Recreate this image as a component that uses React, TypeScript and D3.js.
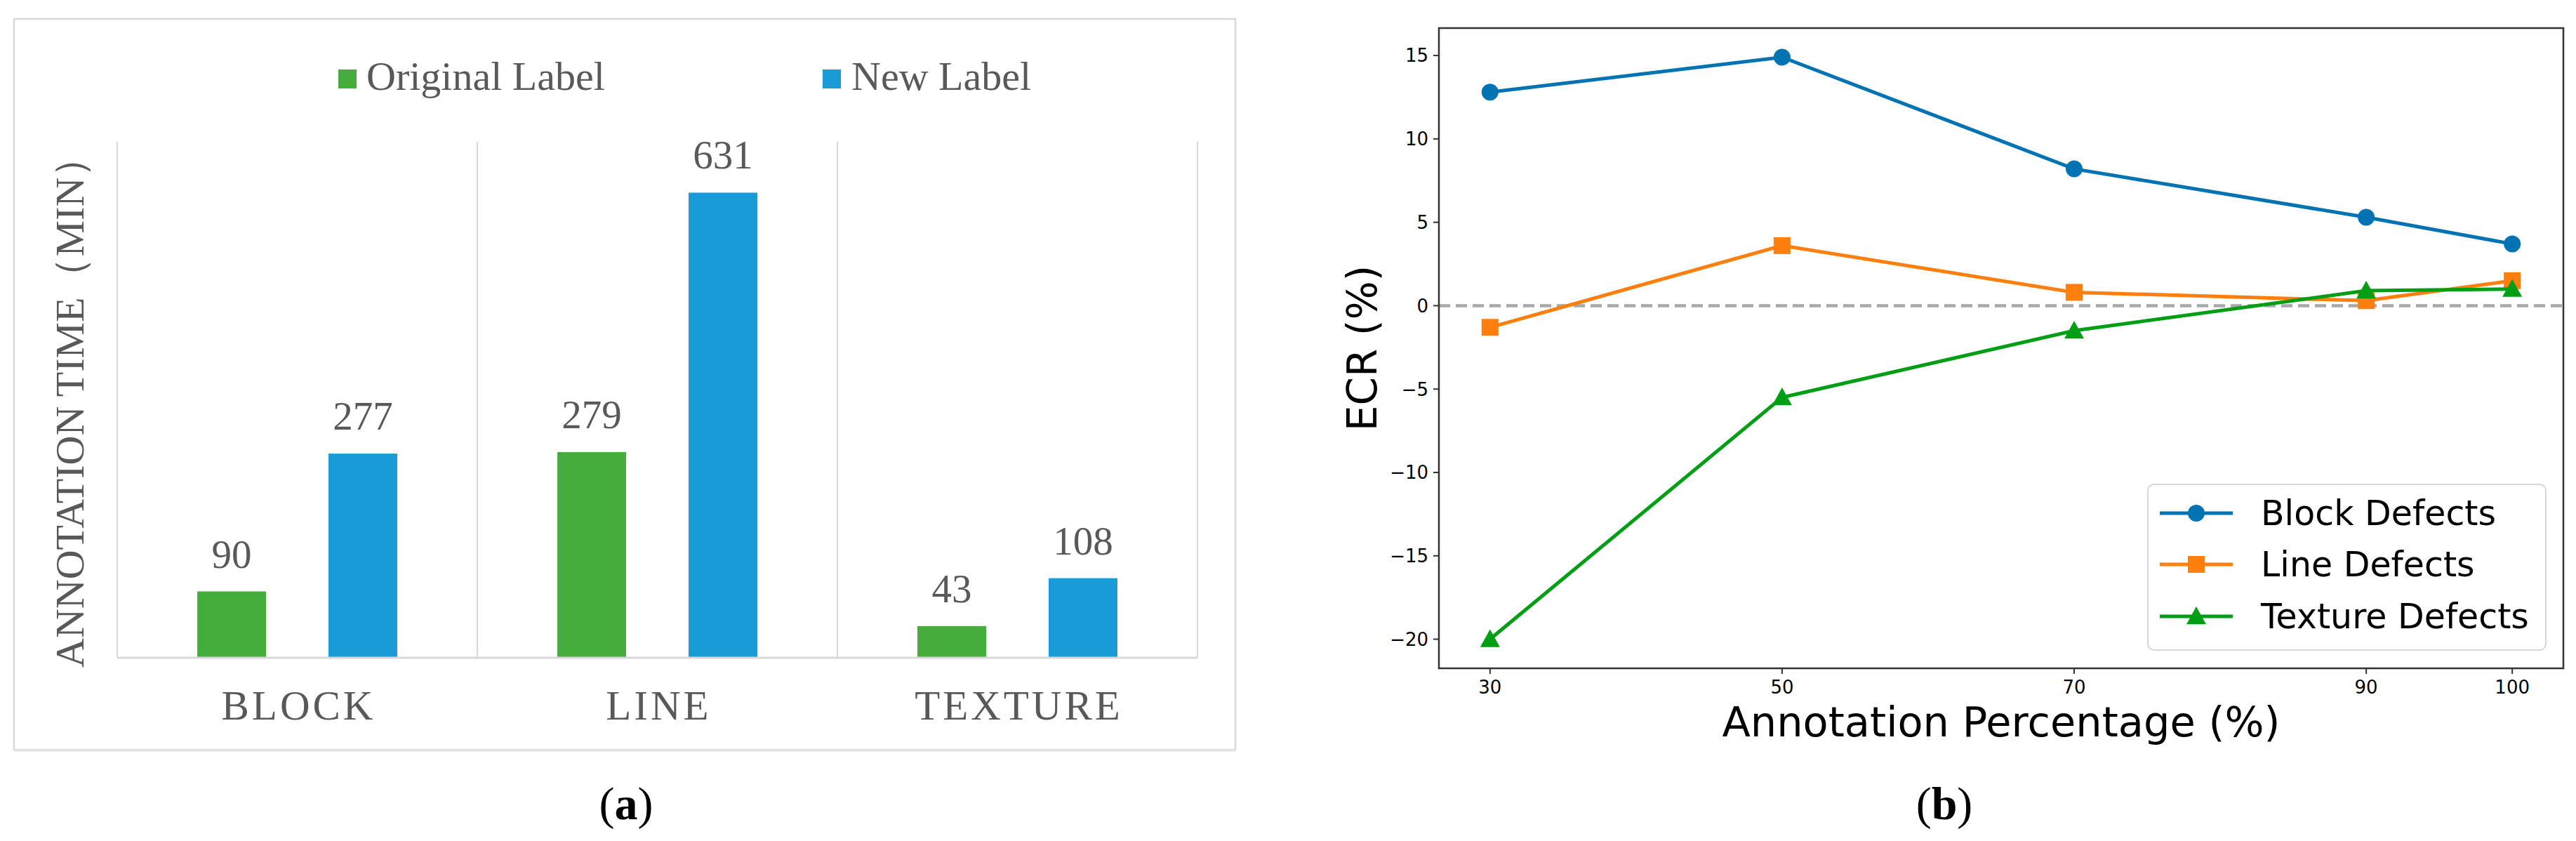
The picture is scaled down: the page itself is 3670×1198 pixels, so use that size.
import React from "react";
import * as d3 from "d3";

// ---------- Panel (a) data ----------
const categories = ["BLOCK", "LINE", "TEXTURE"];
const seriesNames = ["Original Label", "New Label"];
const originalLabel = [90, 279, 43];
const newLabel = [277, 631, 108];
const barColors = ["#44ad3b", "#199bd8"];

// ---------- Panel (b) data ----------
const annotationPct = [30, 50, 70, 90, 100];
const blockDefects = [12.8, 14.9, 8.2, 5.3, 3.7];
const lineDefects = [-1.3, 3.6, 0.8, 0.3, 1.5];
const textureDefects = [-20, -5.5, -1.5, 0.9, 1.0];
const lineSeriesNames = ["Block Defects", "Line Defects", "Texture Defects"];
const lineColors = ["#0173b2", "#ff7f0e", "#009e14"];
const yTicksB = [-20, -15, -10, -5, 0, 5, 10, 15];

const GRAY_TXT = "#595959";
const SERIF = "'Liberation Serif', 'Times New Roman', serif";
const SANS = "'DejaVu Sans', sans-serif";

function fmtTick(v: number) {
  return v < 0 ? "\u2212" + Math.abs(v) : String(v);
}

function PanelA() {
  const x0 = d3.scaleBand<string>().domain(categories).range([167, 1706]).padding(0);
  const x1 = d3
    .scaleBand<string>()
    .domain(seriesNames)
    .range([0, x0.bandwidth()])
    .paddingInner(0.476)
    .paddingOuter(0.61);
  const y = d3.scaleLinear().domain([0, 700]).range([937, 202]);
  const values = [originalLabel, newLabel];
  const seps = [...categories.map((c) => x0(c) as number), x0.range()[1]];
  return (
    <g>
      <rect x={20} y={27} width={1740} height={1041} fill="#fff" stroke="#d9d9d9" strokeWidth={2.5} />
      <line x1={20} x2={1760} y1={1069} y2={1069} stroke="#e3e3e3" strokeWidth={3} />
      {/* legend */}
      <rect x={482} y={99} width={26} height={27} fill={barColors[0]} />
      <text x={522} y={128} fontFamily={SERIF} fontSize={58} fill={GRAY_TXT}>
        {seriesNames[0]}
      </text>
      <rect x={1172} y={99} width={26} height={27} fill={barColors[1]} />
      <text x={1213} y={128} fontFamily={SERIF} fontSize={58} fill={GRAY_TXT}>
        {seriesNames[1]}
      </text>
      {/* separators */}
      {seps.map((sx, i) => (
        <line key={i} x1={sx} x2={sx} y1={y(700)} y2={y(0)} stroke="#d9d9d9" strokeWidth={2} />
      ))}
      {/* bars */}
      {categories.map((c, ci) =>
        seriesNames.map((s, si) => {
          const v = values[si][ci];
          const bx = (x0(c) as number) + (x1(s) as number);
          return (
            <g key={c + s}>
              <rect x={bx} y={y(v)} width={x1.bandwidth()} height={y(0) - y(v)} fill={barColors[si]} />
              <text
                x={bx + x1.bandwidth() / 2}
                y={y(v) - 34}
                textAnchor="middle"
                fontFamily={SERIF}
                fontSize={57}
                fill={GRAY_TXT}
              >
                {v}
              </text>
            </g>
          );
        })
      )}
      <line x1={167} x2={1706} y1={y(0)} y2={y(0)} stroke="#d9d9d9" strokeWidth={3} />
      {categories.map((c) => (
        <text
          key={c}
          x={(x0(c) as number) + x0.bandwidth() / 2 + 2}
          y={1025}
          textAnchor="middle"
          fontFamily={SERIF}
          fontSize={59}
          letterSpacing={4}
          fill={GRAY_TXT}
        >
          {c}
        </text>
      ))}
      <text
        transform="translate(119,951) rotate(-90)"
        fontFamily={SERIF}
        fontSize={58}
        fill={GRAY_TXT}
      >
        ANNOTATION TIME（MIN）
      </text>
      <text x={892} y={1167} textAnchor="middle" fontFamily={SERIF} fontSize={66} fill="#000">
        (<tspan fontWeight="bold">a</tspan>)
      </text>
    </g>
  );
}

function Marker({ kind, x, y, color }: { kind: number; x: number; y: number; color: string }) {
  if (kind === 0) return <circle cx={x} cy={y} r={12} fill={color} />;
  if (kind === 1) return <rect x={x - 12} y={y - 12} width={24} height={24} fill={color} />;
  const s = 14;
  return <path d={`M${x},${y - s} L${x + s},${y + s * 0.8} L${x - s},${y + s * 0.8} Z`} fill={color} />;
}

function PanelB() {
  const allY = [...blockDefects, ...lineDefects, ...textureDefects];
  const [ymin, ymax] = d3.extent(allY) as [number, number];
  const ypad = (ymax - ymin) * 0.05;
  const [xmin, xmax] = d3.extent(annotationPct) as [number, number];
  const xpad = (xmax - xmin) * 0.05;
  const L = 2050, R = 3652, T = 40, B = 952;
  const x = d3.scaleLinear().domain([xmin - xpad, xmax + xpad]).range([L, R]);
  const y = d3.scaleLinear().domain([ymin - ypad, ymax + ypad]).range([B, T]);
  const series = [blockDefects, lineDefects, textureDefects];
  const lineGen = d3
    .line<number>()
    .x((_, i) => x(annotationPct[i]))
    .y((d) => y(d));
  const legendRows = [731, 804, 878];
  return (
    <g>
      <rect x={L} y={T} width={R - L} height={B - T} fill="#fff" />
      <line x1={L} x2={R} y1={y(0)} y2={y(0)} stroke="#a8a8a8" strokeWidth={4.5} strokeDasharray="16,8" />
      {series.map((s, si) => (
        <g key={si}>
          <path d={lineGen(s) as string} fill="none" stroke={lineColors[si]} strokeWidth={5} />
          {s.map((v, i) => (
            <Marker key={i} kind={si} x={x(annotationPct[i])} y={y(v)} color={lineColors[si]} />
          ))}
        </g>
      ))}
      {/* frame */}
      <rect x={L} y={T} width={R - L} height={B - T} fill="none" stroke="#333" strokeWidth={2.5} />
      {/* y ticks */}
      {yTicksB.map((t) => (
        <g key={t}>
          <line x1={L - 8} x2={L} y1={y(t)} y2={y(t)} stroke="#333" strokeWidth={2} />
          <text
            x={L - 15}
            y={y(t)}
            dy="0.36em"
            textAnchor="end"
            fontFamily={SANS}
            fontSize={26}
            fill="#000"
          >
            {fmtTick(t)}
          </text>
        </g>
      ))}
      {/* x ticks */}
      {annotationPct.map((t) => (
        <g key={t}>
          <line x1={x(t)} x2={x(t)} y1={B} y2={B + 8} stroke="#333" strokeWidth={2} />
          <text x={x(t)} y={988} textAnchor="middle" fontFamily={SANS} fontSize={26} fill="#000">
            {t}
          </text>
        </g>
      ))}
      <text x={(L + R) / 2} y={1049} textAnchor="middle" fontFamily={SANS} fontSize={59} fill="#000">
        Annotation Percentage (%)
      </text>
      <text
        transform={`translate(1961,${(T + B) / 2}) rotate(-90)`}
        textAnchor="middle"
        fontFamily={SANS}
        fontSize={58}
        fill="#000"
      >
        ECR (%)
      </text>
      {/* legend */}
      <rect x={3060} y={690} width={567} height={236} rx={9} fill="#fff" fillOpacity={0.8} stroke="#d6d6d6" strokeWidth={2} />
      {lineSeriesNames.map((n, i) => (
        <g key={n}>
          <line x1={3077} x2={3181} y1={legendRows[i]} y2={legendRows[i]} stroke={lineColors[i]} strokeWidth={5} />
          <Marker kind={i} x={3129} y={legendRows[i]} color={lineColors[i]} />
          <text x={3221} y={legendRows[i] + 17} fontFamily={SANS} fontSize={49} fill="#000">
            {n}
          </text>
        </g>
      ))}
      <text x={2770} y={1167} textAnchor="middle" fontFamily={SERIF} fontSize={66} fill="#000">
        (<tspan fontWeight="bold">b</tspan>)
      </text>
    </g>
  );
}

export default function App() {
  return (
    <svg
      width={3670}
      height={1198}
      viewBox="0 0 3670 1198"
      style={{ position: "absolute", left: 0, top: 0, background: "#fff" }}
    >
      <rect x={0} y={0} width={3670} height={1198} fill="#fff" />
      <PanelA />
      <PanelB />
    </svg>
  );
}
